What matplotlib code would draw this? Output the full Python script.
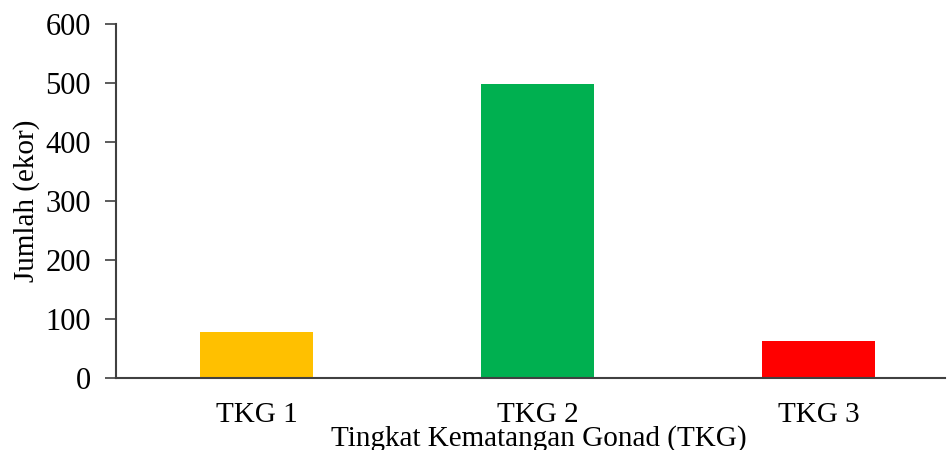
import matplotlib
matplotlib.use('Agg')
import matplotlib.pyplot as plt

categories = ['TKG 1', 'TKG 2', 'TKG 3']
jumlah = [78, 498, 63]
colors = ['#FFC000', '#00B050', '#FF0000']

plt.rcParams['font.family'] = ['Liberation Serif', 'DejaVu Serif']

fig = plt.figure(figsize=(9.47, 4.5), dpi=100)
ax = fig.add_axes([0.1225, 0.16, 0.8755, 0.7867])

x = range(len(categories))
ax.bar(x, jumlah, width=0.4, color=colors)

ax.set_xlim(-0.5, 2.45)
ax.set_ylim(0, 600)
ax.set_yticks(range(0, 601, 100))
ax.set_xticks(list(x))
ax.set_xticklabels(categories)

ax.tick_params(axis='y', labelsize=22, length=8, width=1.2, color='#404040', pad=10)
ax.tick_params(axis='x', labelsize=21, length=0, pad=17)

ax.set_ylabel('Jumlah (ekor)', fontsize=21, labelpad=4)
ax.set_xlabel('Tingkat Kematangan Gonad (TKG)', fontsize=21, labelpad=-2, x=0.51)

for side in ['top', 'right']:
    ax.spines[side].set_visible(False)
for side in ['left', 'bottom']:
    ax.spines[side].set_color('#404040')
    ax.spines[side].set_linewidth(1.5)

fig.savefig('out.png', dpi=100)
